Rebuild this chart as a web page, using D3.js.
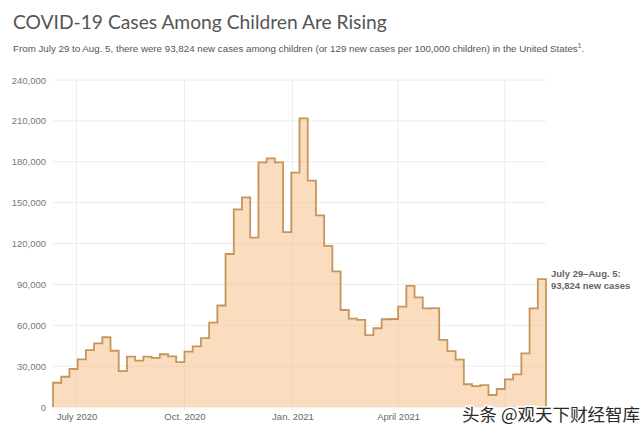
<!DOCTYPE html>
<html>
<head>
<meta charset="utf-8">
<script src="https://cdn.jsdelivr.net/npm/d3@7"></script>
<style>
  html, body { margin: 0; padding: 0; background: #fff; }
  svg { display: block; }
</style>
</head>
<body>
<svg id="chart" width="640" height="432"></svg>
<script>
// ---- data (weekly new COVID-19 cases among US children) ----
const firstWeekStart = "2020-06-11";
const weeklyCases = [
  17800, 22200, 27900, 35000, 41800, 46700, 51200, 41300, 26400, 36900,
  34000, 36900, 36000, 38700, 37200, 33000, 40600, 44500, 50600, 61900,
  74500, 112300, 145100, 153900, 124300, 179600, 182500, 179600, 128400, 172000,
  211900, 166100, 140700, 118200, 99600, 71200, 64800, 63900, 52800, 57800,
  64400, 64600, 73600, 88900, 80500, 72400, 72600, 49200, 41000, 34800,
  16700, 15300, 16100, 8800, 13200, 20300, 24000, 39400, 72400, 93824
];
const yTicks = [0, 30000, 60000, 90000, 120000, 150000, 180000, 210000, 240000];
const gridDates = ["2020-07-01", "2020-10-01", "2021-01-01", "2021-04-01", "2021-07-01"];
const xTickDates = ["2020-07-01", "2020-10-01", "2021-01-01", "2021-04-01"];
const xTickLabels = ["July 2020", "Oct. 2020", "Jan. 2021", "April 2021"];
const titleText = "COVID-19 Cases Among Children Are Rising";
const subtitleText = "From July 29 to Aug. 5, there were 93,824 new cases among children (or 129 new cases per 100,000 children) in the United States";
const annotationLines = ["July 29\u2013Aug. 5:", "93,824 new cases"];
const watermarkText = "头条 @观天下财经智库";

(function () {
const parse = d3.utcParse("%Y-%m-%d");
const start0 = parse(firstWeekStart);
const weeks = weeklyCases.map((v, i) => ({ date: d3.utcDay.offset(start0, 7 * i), value: v }));
const endDate = d3.utcDay.offset(start0, 7 * weeklyCases.length);

const svg = d3.select("#chart");
const pLeft = 53, pRight = 546, pTop = 80, pBottom = 407;

const x = d3.scaleUtc().domain([start0, endDate]).range([pLeft, pRight]);
const y = d3.scaleLinear().domain([0, 240000]).range([pBottom, pTop]);

// Title
const title = svg.append("text")
  .attr("x", 13).attr("y", 29)
  .attr("font-family", "Lato, 'Open Sans', sans-serif")
  .attr("font-size", 20)
  .attr("fill", "#555")
  .text(titleText);
{
  const w = title.node().getComputedTextLength();
  title.attr("font-size", 20 * 374 / w);
}

// Subtitle
const sub = svg.append("text")
  .attr("x", 13).attr("y", 52)
  .attr("font-family", "'Liberation Sans', Arial, sans-serif")
  .attr("font-size", 10)
  .attr("fill", "#555");
sub.append("tspan").text(subtitleText);
sub.append("tspan").attr("dy", -4).attr("font-size", 6.5).text("1");
sub.append("tspan").attr("dy", 4).text(".");
{
  const w = sub.node().getComputedTextLength();
  sub.attr("font-size", 10 * 572 / w);
}

// Grid
const grid = svg.append("g");
grid.selectAll("line.h").data(yTicks).join("line")
  .attr("x1", pLeft).attr("x2", pRight)
  .attr("y1", d => y(d)).attr("y2", d => y(d))
  .attr("stroke", "#ececec").attr("stroke-width", 1);
grid.selectAll("line.v").data(gridDates.map(parse)).join("line")
  .attr("x1", d => x(d)).attr("x2", d => x(d))
  .attr("y1", pTop).attr("y2", pBottom + 3)
  .attr("stroke", "#ececec").attr("stroke-width", 1);

// Area (step)
const pts = weeks.concat([{ date: endDate, value: weeklyCases[weeklyCases.length - 1] }]);
const area = d3.area()
  .curve(d3.curveStepAfter)
  .x(d => x(d.date)).y0(y(0)).y1(d => y(d.value));
svg.append("path")
  .datum(pts)
  .attr("d", area)
  .attr("fill", "#f5b97d")
  .attr("fill-opacity", 0.5);

const linePts = [{ date: start0, value: 0 }].concat(pts, [{ date: endDate, value: 0 }]);
const line = d3.line()
  .curve(d3.curveStepAfter)
  .x(d => x(d.date)).y(d => y(d.value));
svg.append("path")
  .datum(linePts)
  .attr("d", line)
  .attr("fill", "none")
  .attr("stroke", "#c6955c")
  .attr("stroke-width", 1.8)
  .attr("stroke-linejoin", "miter");

// Y axis
const yAxis = svg.append("g")
  .attr("transform", `translate(${pLeft - 7},0)`)
  .call(d3.axisLeft(y).tickValues(yTicks).tickFormat(d3.format(",")).tickSize(0).tickPadding(0));
yAxis.select(".domain").remove();
yAxis.selectAll("text")
  .attr("font-family", "'Liberation Sans', Arial, sans-serif")
  .attr("font-size", 9.5)
  .attr("fill", "#777");

// X axis
const xAxis = svg.append("g")
  .attr("transform", `translate(0,${pBottom + 3})`)
  .call(d3.axisBottom(x).tickValues(xTickDates.map(parse))
    .tickFormat((d, i) => xTickLabels[i]).tickSize(0).tickPadding(3));
xAxis.select(".domain").remove();
xAxis.selectAll("text")
  .attr("font-family", "'Liberation Sans', Arial, sans-serif")
  .attr("font-size", 9.5)
  .attr("fill", "#666");

// Annotation
const ann = svg.append("text")
  .attr("x", x(endDate) + 5)
  .attr("y", y(weeklyCases[weeklyCases.length - 1]))
  .attr("font-family", "'Liberation Sans', Arial, sans-serif")
  .attr("font-size", 9.5)
  .attr("font-weight", "bold")
  .attr("fill", "#666");
ann.selectAll("tspan").data(annotationLines).join("tspan")
  .attr("x", x(endDate) + 5)
  .attr("dy", (d, i) => i === 0 ? -2 : 11.5)
  .text(d => d);

// Watermark
svg.append("text")
  .attr("x", 462).attr("y", 421)
  .attr("font-family", "'Noto Sans CJK SC', sans-serif")
  .attr("font-size", 17.5)
  .attr("fill", "#2a2a2a")
  .attr("stroke", "#fff")
  .attr("stroke-width", 3)
  .attr("paint-order", "stroke")
  .text(watermarkText);
})();
</script>
</body>
</html>
